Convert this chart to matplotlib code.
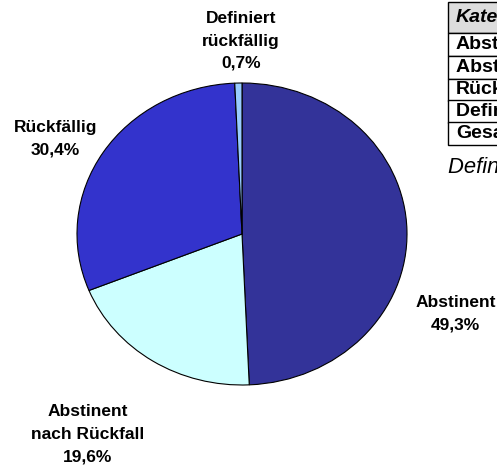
import matplotlib.pyplot as plt
from matplotlib.patches import Rectangle

plt.rcParams['font.family'] = ['Liberation Sans', 'DejaVu Sans']

# pie data, clockwise from 12 o'clock
kategorien = ['Abstinent', 'Abstinent\nnach Rückfall', 'Rückfällig', 'Definiert\nrückfällig']
anteile = [49.3, 19.6, 30.4, 0.7]
farben = ['#333399', '#CCFFFF', '#3333CC', '#99CCFF']

# table on the right (cut off by the image border)
tabelle_kopf = 'Kategorie'
tabelle_zeilen = ['Abstinent', 'Abstinent nach Rückfall', 'Rückfällig', 'Definiert rückfällig', 'Gesamt']
fussnote = 'Definiert rückfällig:'

W, H = 497, 468

def fx(px):
    return px / W

def fy(py):
    return 1 - py / H

fig = plt.figure(figsize=(W / 100, H / 100), dpi=100)
ax = fig.add_axes([fx(77), fy(385), 330 / W, 302 / H])

ax.pie(anteile, colors=farben, startangle=90, counterclock=False,
       wedgeprops=dict(edgecolor='black', linewidth=0.8))
ax.set_aspect('auto')
ax.set_xlim(-1, 1)
ax.set_ylim(-1, 1)

# label positions in pie coordinates
label_pos = [(1.295, -0.53), (-0.933, -1.325), (-1.13, 0.63), (-0.006, 1.278)]
for name, wert, (lx, ly) in zip(kategorien, anteile, label_pos):
    txt = name + '\n' + str(wert).replace('.', ',') + '%'
    ax.text(lx, ly, txt, ha='center', va='center', fontsize=12.5,
            fontweight='bold', linespacing=1.62, clip_on=False)

# table
grenzen = [2, 33, 56, 78.5, 100.5, 122.5, 145]
for i in range(len(grenzen) - 1):
    y0, y1 = grenzen[i], grenzen[i + 1]
    fc = '#DDDDDD' if i == 0 else 'white'
    fig.add_artist(Rectangle((fx(448), fy(y1)), fx(300), (y1 - y0) / H,
                             transform=fig.transFigure, facecolor=fc,
                             edgecolor='black', linewidth=1.0))
    if i == 0:
        fig.text(fx(456), fy((y0 + y1) / 2), tabelle_kopf, fontsize=14,
                 fontweight='bold', style='italic', va='center')
    else:
        fig.text(fx(456), fy((y0 + y1) / 2), tabelle_zeilen[i - 1], fontsize=14,
                 fontweight='bold', va='center')

fig.text(fx(448), fy(168), fussnote, fontsize=15.8, style='italic', va='center')

fig.savefig('out.png', dpi=100)
